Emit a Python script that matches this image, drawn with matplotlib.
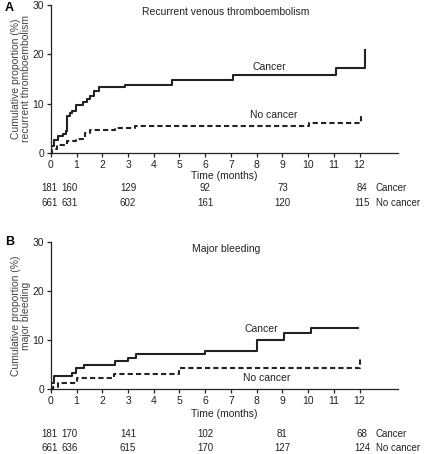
import matplotlib
matplotlib.use("Agg")
import matplotlib.pyplot as plt
import matplotlib.transforms as mtransforms

plt.rcParams['font.family'] = ['Liberation Sans', 'DejaVu Sans']
plt.rcParams['font.size'] = 8

# panel A - recurrent venous thromboembolism (step times in months, cumulative %)
vte_cancer_t = [0, 0.0, 0.13, 0.28, 0.48, 0.57, 0.61, 0.74, 0.84, 0.99, 1.23, 1.41, 1.54, 1.67, 1.87, 2.87, 4.70, 7.09, 11.07, 12.2]
vte_cancer_y = [0, 1.5, 2.7, 3.4, 3.9, 4.4, 7.5, 8.1, 8.6, 9.8, 10.4, 10.9, 11.5, 12.6, 13.3, 13.8, 14.8, 15.8, 17.2, 20.9]
vte_nocancer_t = [0, 0.05, 0.22, 0.61, 0.99, 1.32, 1.51, 2.48, 3.26, 10.04, 12.04]
vte_nocancer_y = [0, 0.9, 1.7, 2.4, 2.8, 4.0, 4.7, 5.1, 5.5, 6.1, 7.8]

# panel B - major bleeding
bleed_cancer_t = [0, 0.0, 0.13, 0.84, 0.99, 1.29, 2.48, 3.0, 3.32, 6.0, 8.01, 9.07, 10.1, 11.95]
bleed_cancer_y = [0, 1.2, 2.7, 3.4, 4.3, 4.9, 5.7, 6.4, 7.1, 7.8, 10.0, 11.4, 12.4, 12.4]
bleed_nocancer_t = [0, 0.08, 0.28, 1.02, 2.45, 5.0, 12.0]
bleed_nocancer_y = [0, 0.5, 1.2, 2.2, 3.1, 4.4, 6.1]

# numbers at risk
risk_x = [-0.04, 0.72, 3, 6, 9, 12.1]
vte_risk_cancer = [181, 160, 129, 92, 73, 84]
vte_risk_nocancer = [661, 631, 602, 161, 120, 115]
bleed_risk_cancer = [181, 170, 141, 102, 81, 68]
bleed_risk_nocancer = [661, 636, 615, 170, 127, 124]

ink = '#222222'

fig = plt.figure(figsize=(4.24, 4.54), dpi=100)


def panel(rect, letter, letter_y, title, ylab, c_t, c_y, n_t, n_y, risk_c, risk_n,
          c_lab, n_lab, rows_y, time_pad):
    ax = fig.add_axes(rect)
    ax.step(c_t, c_y, where='post', color=ink, lw=1.5)
    ax.step(n_t, n_y, where='post', color=ink, lw=1.5, linestyle=(0, (2.5, 1.5)))
    ax.set_xlim(0, 13.5)
    ax.set_ylim(0, 30)
    ax.set_xticks(range(0, 13))
    ax.set_yticks([0, 10, 20, 30])
    for s in ['top', 'right']:
        ax.spines[s].set_visible(False)
    for s in ['left', 'bottom']:
        ax.spines[s].set_color(ink)
        ax.spines[s].set_linewidth(0.9)
    ax.tick_params(direction='out', length=3, width=0.9, colors=ink,
                   labelsize=7.5, pad=2)
    ax.set_xlabel('Time (months)', fontsize=7.5, labelpad=time_pad, color=ink)
    ax.set_ylabel(ylab, fontsize=7.5, color='#444444', labelpad=1,
                  linespacing=1.0)
    ax.text(6.8, 28.6, title, ha='center', va='center', fontsize=7.5, color=ink)
    ax.text(c_lab[0], c_lab[1], 'Cancer', ha='center', va='center', fontsize=7.5, color=ink)
    ax.text(n_lab[0], n_lab[1], 'No cancer', ha='center', va='center', fontsize=7.5, color=ink)
    fig.text(5 / 424, letter_y, letter, fontsize=9, fontweight='bold',
             va='center', ha='left')
    tr = mtransforms.blended_transform_factory(ax.transData, ax.transAxes)
    for xv, a, b in zip(risk_x, risk_c, risk_n):
        ax.text(xv, rows_y[0], str(a), transform=tr, ha='center', va='center', fontsize=7, color=ink)
        ax.text(xv, rows_y[1], str(b), transform=tr, ha='center', va='center', fontsize=7, color=ink)
    ax.text(12.62, rows_y[0], 'Cancer', transform=tr, ha='left', va='center', fontsize=7, color=ink)
    ax.text(12.62, rows_y[1], 'No cancer', transform=tr, ha='left', va='center', fontsize=7, color=ink)
    return ax


panel([0.120, 0.663, 0.819, 0.326], 'A', 1 - 8 / 454, 'Recurrent venous thromboembolism',
      'Cumulative proportion (%)\nrecurrent thromboembolism',
      vte_cancer_t, vte_cancer_y, vte_nocancer_t, vte_nocancer_y,
      vte_risk_cancer, vte_risk_nocancer,
      (8.5, 17.4), (8.65, 7.7), (-0.236, -0.336), 1)

panel([0.120, 0.1425, 0.819, 0.325], 'B', 1 - 242 / 454, 'Major bleeding',
      'Cumulative proportion (%)\nmajor bleeding',
      bleed_cancer_t, bleed_cancer_y, bleed_nocancer_t, bleed_nocancer_y,
      bleed_risk_cancer, bleed_risk_nocancer,
      (8.2, 12.2), (8.4, 2.2), (-0.303, -0.398), 2)

fig.savefig('out.png', dpi=100)
